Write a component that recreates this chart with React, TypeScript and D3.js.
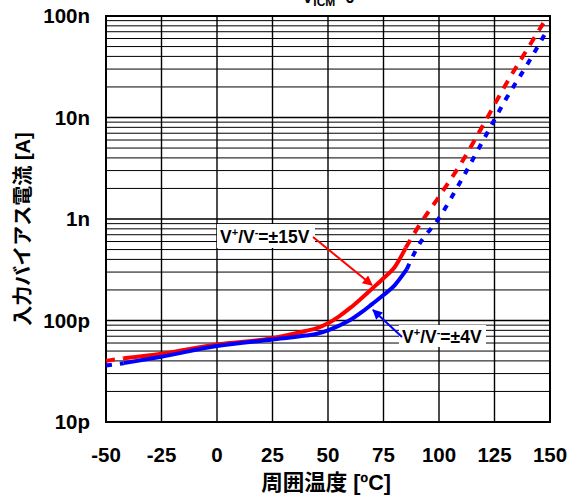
import React from 'react';
import * as d3 from 'd3';

// Temperature [°C] and input bias current [pA]
const temps15 = [-50, -42, -25, 0, 25, 40, 45, 50, 55, 60, 65, 70, 75, 80, 85, 90, 100, 110, 120, 130, 140, 147];
const ib15 = [40, 42.5, 47, 58, 67, 79, 84, 94, 110, 133, 165, 207, 261, 335, 520, 794, 1660, 3550, 8500, 21000, 48000, 85000];
const solid15 = [-42, 85];

const temps4 = [-50, -42, -25, 0, 25, 40, 45, 50, 55, 60, 65, 70, 75, 80, 85.5, 90, 100, 110, 120, 130, 140, 148.5];
const ib4 = [36, 38, 44, 56, 65, 71, 74, 80, 89, 101, 120, 146, 178, 222, 320, 513, 1020, 2400, 6000, 15000, 34000, 71000];
const solid4 = [-42, 85.5];

const xTicks = [-50, -25, 0, 25, 50, 75, 100, 125, 150];
const yTicks = [10, 100, 1000, 10000, 100000];
const yTickLabels = ['10p', '100p', '1n', '10n', '100n'];

const W = 571, H = 497;
const L = 106, R = 550, T = 16, B = 422;
const FONT = '"Liberation Sans", Arial, "Noto Sans CJK JP", sans-serif';

export default function App() {
  const x = d3.scaleLinear().domain([-50, 150]).range([L, R]);
  const y = d3.scaleLog().domain([10, 100000]).range([B, T]);
  const line = d3.line<[number, number]>().x(d => x(d[0])).y(d => y(d[1])).curve(d3.curveMonotoneX);

  const seg = (ts: number[], vs: number[], a: number, b: number) =>
    ts.map((t, i) => [t, vs[i]] as [number, number]).filter(d => d[0] >= a && d[0] <= b);

  const minor: number[] = [];
  for (let dec = 10; dec < 100000; dec *= 10) for (let k = 2; k <= 9; k++) minor.push(dec * k);

  const series = [
    { ts: temps15, vs: ib15, s: solid15, color: '#ff0000', dash: '9,8' },
    { ts: temps4, vs: ib4, s: solid4, color: '#0000ff', dash: '6,8' },
  ];

  return (
    <svg width={W} height={H} style={{ position: 'absolute', left: 0, top: 0, background: '#fff' }} fontFamily={FONT}>
      <defs>
        <marker id="arR" viewBox="0 0 10 10" refX="9" refY="5" markerWidth="6" markerHeight="5" orient="auto" markerUnits="strokeWidth">
          <path d="M0,0 L10,5 L0,10 z" fill="#ff0000" />
        </marker>
        <marker id="arB" viewBox="0 0 10 10" refX="9" refY="5" markerWidth="6" markerHeight="5" orient="auto" markerUnits="strokeWidth">
          <path d="M0,0 L10,5 L0,10 z" fill="#0000ff" />
        </marker>
      </defs>
      {/* title (cut at top, as in the reference) */}
      <text x={302} y={3} fontSize={17} fontWeight="bold" fill="#000">
        V<tspan fontSize={12} dy={3}>ICM</tspan><tspan dy={-3}>=0</tspan>
      </text>
      {/* grid */}
      {minor.map(v => (
        <line key={'m' + v} x1={L} x2={R} y1={y(v)} y2={y(v)} stroke="#000" strokeWidth={1} />
      ))}
      {yTicks.map(v => (
        <line key={'M' + v} x1={L} x2={R} y1={y(v)} y2={y(v)} stroke="#000" strokeWidth={1.4} />
      ))}
      {xTicks.map(v => (
        <line key={'v' + v} x1={x(v)} x2={x(v)} y1={T} y2={B} stroke="#000" strokeWidth={1.4} />
      ))}
      <rect x={L} y={T} width={R - L} height={B - T} fill="none" stroke="#000" strokeWidth={2} />
      {/* curves */}
      {series.map((s, i) => (
        <g key={i} fill="none" stroke={s.color} strokeWidth={4}>
          <path d={line(seg(s.ts, s.vs, -100, s.s[0])) || ''} strokeDasharray={s.dash} />
          <path d={line(seg(s.ts, s.vs, s.s[0], s.s[1])) || ''} />
          <path d={line(seg(s.ts, s.vs, s.s[1], 200)) || ''} strokeDasharray={s.dash} />
        </g>
      ))}
      {/* annotations */}
      <rect x={217} y={224} width={98} height={24} fill="#fff" />
      <text x={220} y={243} fontSize={17.5} fontWeight="bold">
        V<tspan fontSize={11} dy={-7}>+</tspan><tspan dy={7}>/V</tspan><tspan fontSize={11} dy={-7}>-</tspan><tspan dy={7}>=±15V</tspan>
      </text>
      <line x1={313} y1={237} x2={372} y2={285} stroke="#ff0000" strokeWidth={2} markerEnd="url(#arR)" />
      <rect x={399} y={325} width={87} height={22} fill="#fff" />
      <text x={402} y={343} fontSize={17.5} fontWeight="bold">
        V<tspan fontSize={11} dy={-7}>+</tspan><tspan dy={7}>/V</tspan><tspan fontSize={11} dy={-7}>-</tspan><tspan dy={7}>=±4V</tspan>
      </text>
      <line x1={402} y1={337} x2={373} y2={310} stroke="#0000ff" strokeWidth={2} markerEnd="url(#arB)" />
      {/* axes labels */}
      {yTicks.map((v, i) => (
        <text key={'yl' + v} x={90} y={y(v)} dy="0.35em" textAnchor="end" fontSize={20.5} fontWeight="bold">{yTickLabels[i]}</text>
      ))}
      {xTicks.map(v => (
        <text key={'xl' + v} x={x(v)} y={455} dy="0.35em" textAnchor="middle" fontSize={20.5} fontWeight="bold">{v}</text>
      ))}
      <text x={326} y={482} dy="0.35em" textAnchor="middle" fontSize={21.5} fontWeight="bold">周囲温度 [ºC]</text>
      <text transform="translate(23,229) rotate(-90)" dy="0.35em" textAnchor="middle" fontSize={20} fontWeight="bold">入力バイアス電流 [A]</text>
    </svg>
  );
}
